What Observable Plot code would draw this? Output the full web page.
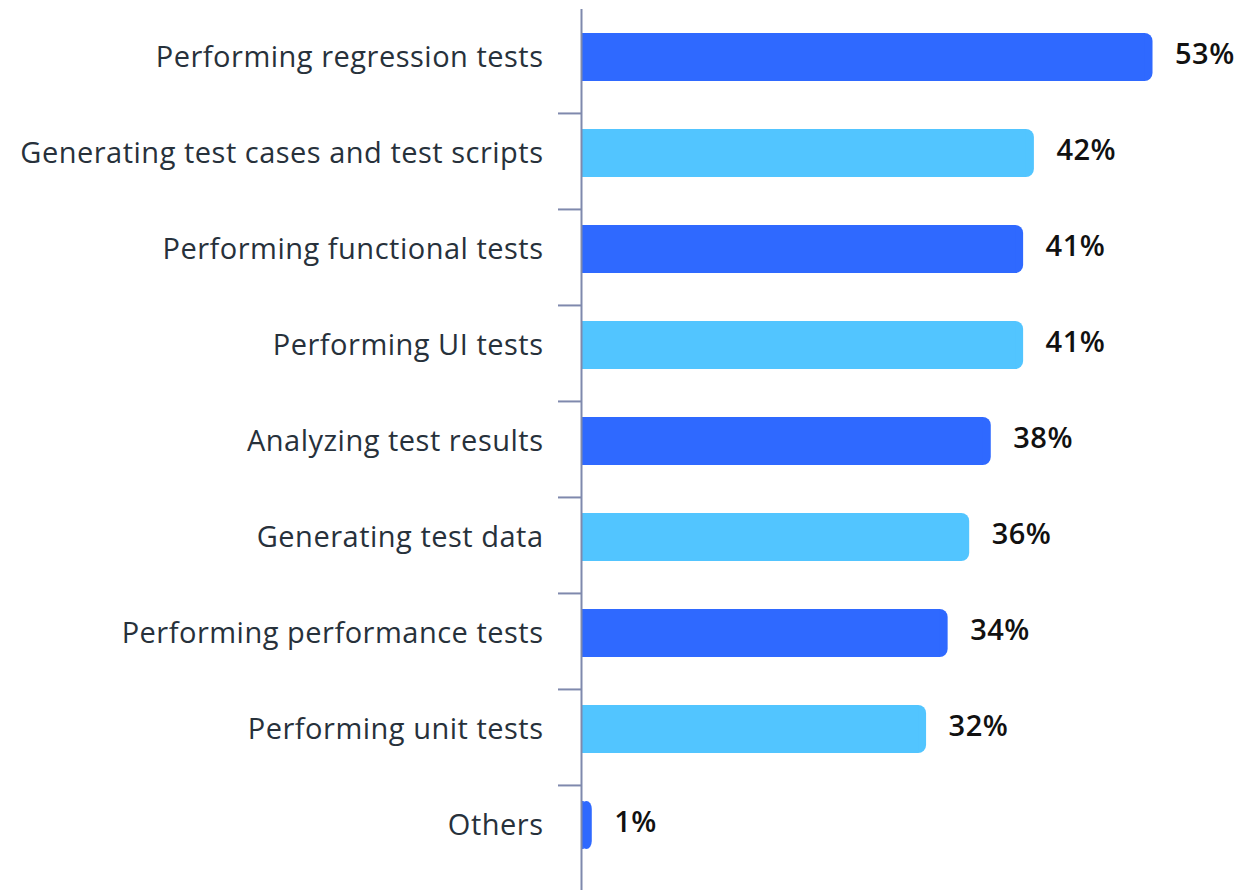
<!DOCTYPE html>
<html>
<head>
<meta charset="utf-8">
<script src="https://cdn.jsdelivr.net/npm/d3@7"></script>
<script src="https://cdn.jsdelivr.net/npm/@observablehq/plot@0.6"></script>
<style>
  html, body { margin: 0; padding: 0; background: #fff; }
  svg text { letter-spacing: 0.5px; }
</style>
</head>
<body>
<div id="chart"></div>
<script>
const categories = [
  "Performing regression tests",
  "Generating test cases and test scripts",
  "Performing functional tests",
  "Performing UI tests",
  "Analyzing test results",
  "Generating test data",
  "Performing performance tests",
  "Performing unit tests",
  "Others"
];
const values = [53, 42, 41, 41, 38, 36, 34, 32, 1];
const colors = ["#2f69ff", "#52c5ff"];

const data = categories.map((c, i) => ({category: c, value: values[i], idx: i}));

const W = 1253, H = 890, mt = 8, mb = 17;
const step = (H - mt - mb) / categories.length;

const chart = Plot.plot({
  width: W,
  height: H,
  marginLeft: 581,
  marginRight: 25,
  marginTop: mt,
  marginBottom: mb,
  style: {fontFamily: "'Open Sans', Lato, sans-serif", background: "#fff"},
  x: {domain: [0, 60], axis: null},
  y: {domain: categories, paddingInner: 0.5, paddingOuter: 0.25, label: null},
  marks: [
    Plot.barX(data, {y: "category", x: "value", fill: d => colors[d.idx % 2], rx: 8}),
    Plot.barX(data, {y: "category", x: "value", fill: d => colors[d.idx % 2], insetRight: 8}),
    Plot.text(data, {
      y: "category", x: "value", text: d => d.value + "%",
      textAnchor: "start", dx: 22, dy: -3, fontSize: 29, fontWeight: 600, fill: "#111"
    }),
    Plot.axisY({tickSize: 0, tickPadding: 38, fontSize: 29, fill: "#27313b", label: null}),
    Plot.axisY({ticks: categories.slice(1), text: null, tickSize: 23, dy: -step / 2 + 8, stroke: "#7f89ad", strokeWidth: 2, label: null}),
    Plot.ruleX([0], {stroke: "#7f89ad", strokeWidth: 2, insetTop: 1, insetBottom: -17})
  ]
});
document.getElementById("chart").appendChild(chart);
</script>
</body>
</html>
